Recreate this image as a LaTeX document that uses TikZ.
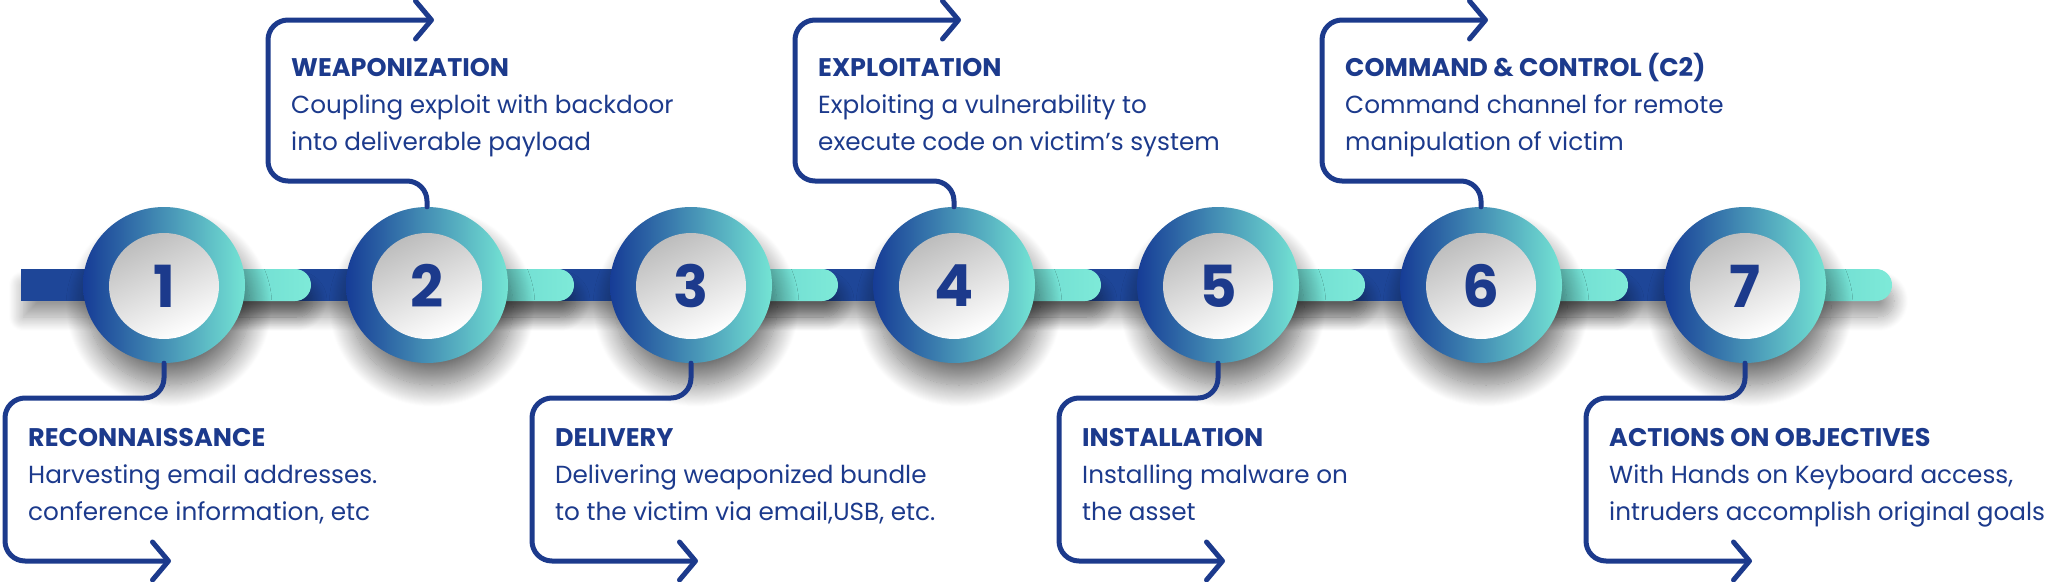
\documentclass[tikz,border=0pt]{standalone}
\usepackage{fontspec}
\setmainfont{Poppins}
\newfontfamily\numfont{Poppins}
\usetikzlibrary{shapes.geometric,arrows.meta,shadows.blur}
\definecolor{navy}{RGB}{28,58,140}
\definecolor{ringL}{RGB}{22,60,150}
\definecolor{ringR}{RGB}{116,228,212}
\definecolor{barblue}{RGB}{30,70,152}
\definecolor{pillL}{RGB}{96,205,204}
\definecolor{pillR}{RGB}{126,234,216}
\tikzset{
  ringnode/.style={ellipse, minimum width=162pt, minimum height=156pt, inner sep=0pt,
    left color=ringL, right color=ringR, draw=none,
    blur shadow={shadow xshift=5pt, shadow yshift=-22pt, shadow blur radius=22pt, shadow blur steps=24, shadow opacity=55}},
  innernode/.style={ellipse, minimum width=110pt, minimum height=106pt, inner sep=0pt,
    top color=black!26, middle color=white, bottom color=white, shading angle=25, draw=none,
    text=navy, font=\numfont\bfseries\fontsize{58}{58}\selectfont},
  bracket/.style={draw=navy, line width=5pt, rounded corners=20pt, line cap=round,
    -{Straight Barb[length=16pt,width=38pt,round]}},
  labeltext/.style={anchor=base west, inner sep=0pt, text=navy,
    font=\fontsize{24.7}{37}\selectfont},
  barshadow/.style={blur shadow={shadow xshift=2pt, shadow yshift=-16pt, shadow blur radius=14pt, shadow blur steps=16, shadow opacity=40}},
  pill/.style={left color=pillL, right color=pillR, draw=none, barshadow},
}
\newcommand{\headline}[1]{{\fontsize{25.5}{37}\selectfont\bfseries #1}}
\begin{document}
\begin{tikzpicture}[x=1pt,y=-1pt]
\useasboundingbox (0,0) rectangle (2048,581);
% main dark bar
\fill[barblue, barshadow] (21,269) rectangle (1745,301);
\foreach \x in {164,427,691,954,1218,1481,1745}{
  \path[pill] (\x,269) [rounded corners=15.9pt] -- (\x+147,269) -- (\x+147,301) [sharp corners] -- (\x,301) -- cycle;
}
\foreach \i/\x in {1/164,2/427,3/691,4/954,5/1218,6/1481,7/1745}{
  \node[ringnode] (c\i) at (\x,285) {};
  \node[innernode] (n\i) at (\x,286) {\i};
}
% top brackets
\foreach \i/\x in {2/427,4/954,6/1481}{
  \coordinate (t\i) at (\x+7,20);
  \draw[bracket] (c\i.north) -- (\x,181) -- (\x-159,181) -- (\x-159,20) -- (t\i);
}
% bottom brackets
\foreach \i/\x in {1/164,3/691,5/1218,7/1745}{
  \coordinate (b\i) at (\x+7,561);
  \draw[bracket] (c\i.south) -- (\x,398) -- (\x-159,398) -- (\x-159,561) -- (b\i);
}
\node[labeltext] (l1) at (28,446) {\begin{tabular}[t]{@{}l@{}}\headline{RECONNAISSANCE}\\Harvesting email addresses.\\conference information, etc\end{tabular}};
\node[labeltext] (l2) at (291,76) {\begin{tabular}[t]{@{}l@{}}\headline{WEAPONIZATION}\\Coupling exploit with backdoor\\into deliverable payload\end{tabular}};
\node[labeltext] (l3) at (555,446) {\begin{tabular}[t]{@{}l@{}}\headline{DELIVERY}\\Delivering weaponized bundle\\to the victim via email,USB, etc.\end{tabular}};
\node[labeltext] (l4) at (818,76) {\begin{tabular}[t]{@{}l@{}}\headline{EXPLOITATION}\\Exploiting a vulnerability to\\execute code on victim's system\end{tabular}};
\node[labeltext] (l5) at (1082,446) {\begin{tabular}[t]{@{}l@{}}\headline{INSTALLATION}\\Installing malware on\\the asset\end{tabular}};
\node[labeltext] (l6) at (1345,76) {\begin{tabular}[t]{@{}l@{}}\headline{COMMAND \& CONTROL (C2)}\\Command channel for remote\\manipulation of victim\end{tabular}};
\node[labeltext] (l7) at (1609,446) {\begin{tabular}[t]{@{}l@{}}\headline{ACTIONS ON OBJECTIVES}\\With Hands on Keyboard access,\\intruders accomplish original goals\end{tabular}};
\end{tikzpicture}
\end{document}
